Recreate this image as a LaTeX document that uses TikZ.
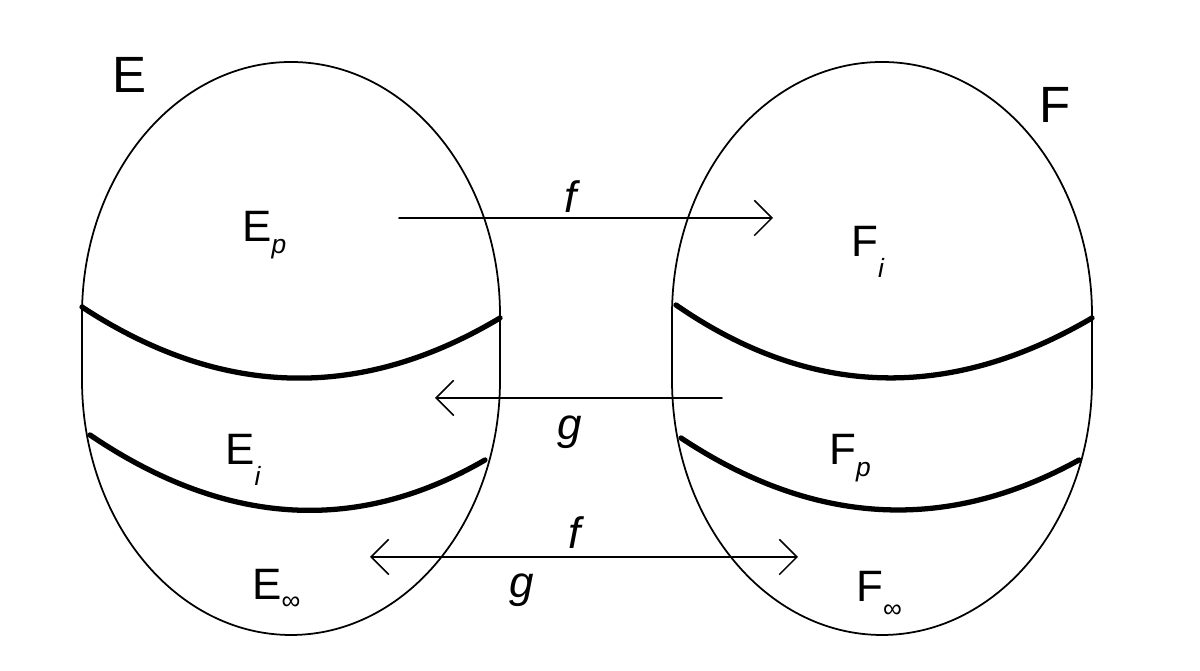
\documentclass[tikz,border=0pt]{standalone}
\usepackage{fontspec}
\setmainfont{Liberation Sans}
\usetikzlibrary{arrows.meta}
\newcommand{\lowr}[2]{\raisebox{-#1}{\fontsize{7.5}{9}\selectfont #2}}
\begin{document}
\begin{tikzpicture}[x=0.01cm, y=0.01cm, line join=round, line cap=round,
 >={Straight Barb[length=5pt,width=10pt]},
 egg/.style={line width=0.5pt},
 band/.style={line width=1.5pt},
 map/.style={line width=0.45pt},
 lbl/.style={inner sep=0pt, anchor=base west, font=\fontsize{12.5}{15}\selectfont},
 big/.style={inner sep=0pt, anchor=base west, font=\fontsize{14.5}{17}\selectfont},
 fn/.style={inner sep=0pt, font=\fontsize{12.5}{15}\selectfont\itshape}]
 \useasboundingbox (0,0) rectangle (1200,671);
 % the two eggs
 \draw[egg] (500,356) arc[start angle=0, end angle=180, x radius=209, y radius=253]
  -- (82,291) arc[start angle=180, end angle=360, x radius=209, y radius=255] -- cycle;
 \draw[egg] (1092,356) arc[start angle=0, end angle=180, x radius=210, y radius=253]
  -- (672,291) arc[start angle=180, end angle=360, x radius=210, y radius=255] -- cycle;
 % borders between the parts
 \draw[band] (82,364) .. controls (220.7,273) and (360,269.3) .. (500,353);
 \draw[band] (90,236) .. controls (224.7,144.7) and (356.3,136.3) .. (485,211);
 \draw[band] (676,366) .. controls (810,273.3) and (948.7,269) .. (1092,353);
 \draw[band] (681,233) .. controls (813.7,145) and (946.3,137.7) .. (1079,211);
 % names
 \node[big] (E) at (112,578) {E};
 \node[big] (F) at (1039,548) {F};
 \node[lbl] (Ep) at (241.5,429) {E\lowr{3.4pt}{\textit{p}}};
 \node[lbl] (Ei) at (224.5,206) {E\lowr{5.7pt}{\textit{i}}};
 \node[lbl] (Einf) at (251.5,71) {E\lowr{2.7pt}{∞}};
 \node[lbl] (Fi) at (850.5,414) {F\lowr{5.9pt}{\textit{i}}};
 \node[lbl] (Fp) at (828.5,206) {F\lowr{3.4pt}{\textit{p}}};
 \node[lbl] (Finf) at (855.5,69) {F\lowr{4.3pt}{∞}};
 % maps
 \coordinate (fa) at (399,453); \coordinate (fb) at (773,453);
 \coordinate (ga) at (722,273); \coordinate (gb) at (435,273);
 \coordinate (ha) at (370,114); \coordinate (hb) at (798,114);
 \draw[map,->] (fa)--(fb);
 \draw[map,->] (ga)--(gb);
 \draw[map,<->] (ha)--(hb);
 \node[fn] (f1) at (571,474) {f};
 \node[fn] (g1) at (570,239) {g};
 \node[fn] (f2) at (575,138) {f};
 \node[fn] (g2) at (522,81) {g};
\end{tikzpicture}
\end{document}
